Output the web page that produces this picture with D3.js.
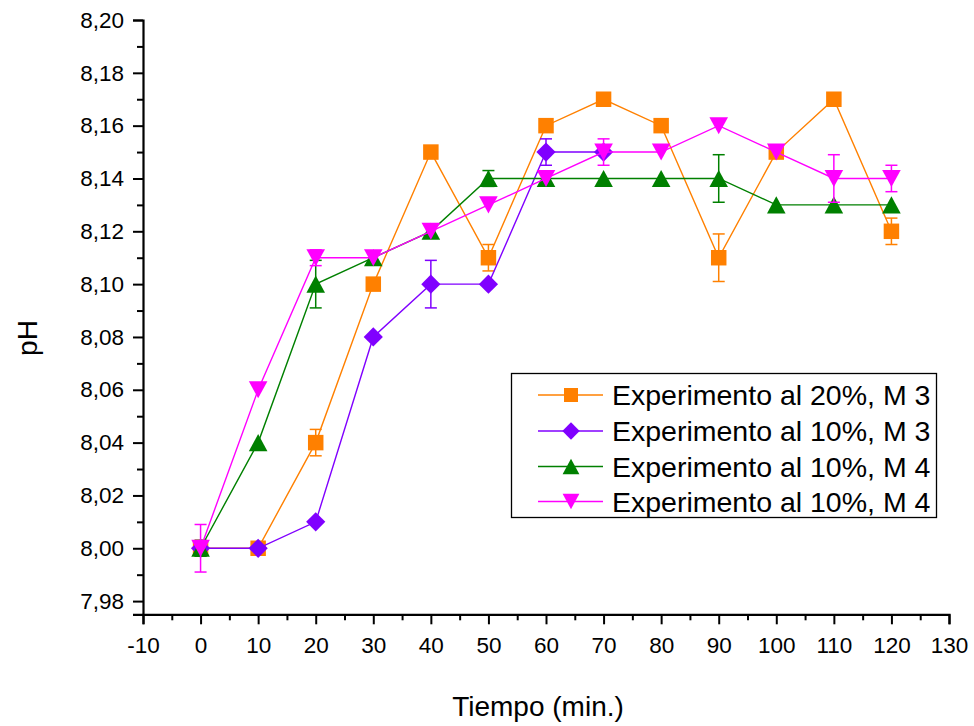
<!DOCTYPE html>
<html>
<head>
<meta charset="utf-8">
<script src="https://cdn.jsdelivr.net/npm/d3@7"></script>
<style>
  body { margin: 0; background: #fff; }
  svg { display: block; font-family: "Liberation Sans", Arial, sans-serif; }
</style>
</head>
<body>
<svg id="chart" width="974" height="726"></svg>
<script>
// ---- data ----
const times = [0, 10, 20, 30, 40, 50, 60, 70, 80, 90, 100, 110, 120];
const seriesNames = ["Experimento al 20%, M 3", "Experimento al 10%, M 3", "Experimento al 10%, M 4", "Experimento al 10%, M 4"];
const seriesColors = ["#FF8000", "#8000FF", "#008000", "#FF00FF"];
const seriesSymbols = ["square", "diamond", "triangleUp", "triangleDown"];
const orangeValues = [8.00, 8.00, 8.04, 8.10, 8.15, 8.11, 8.16, 8.17, 8.16, 8.11, 8.15, 8.17, 8.12];
const orangeErrors = [0.003, 0, 0.005, 0, 0, 0.005, 0, 0, 0, 0.009, 0, 0, 0.005];
const purpleValues = [8.00, 8.00, 8.01, 8.08, 8.10, 8.10, 8.15, 8.15];
const purpleErrors = [0.002, 0, 0, 0, 0.009, 0, 0.005, 0];
const greenValues = [8.00, 8.04, 8.10, 8.11, 8.12, 8.14, 8.14, 8.14, 8.14, 8.14, 8.13, 8.13, 8.13];
const greenErrors = [0.003, 0, 0.009, 0, 0, 0.003, 0, 0, 0, 0.009, 0, 0, 0];
const pinkValues = [8.00, 8.06, 8.11, 8.11, 8.12, 8.13, 8.14, 8.15, 8.15, 8.16, 8.15, 8.14, 8.14];
const pinkErrors = [0.009, 0, 0.003, 0, 0, 0, 0, 0.005, 0, 0, 0, 0.009, 0.005];
const xTickValues = [-10, 0, 10, 20, 30, 40, 50, 60, 70, 80, 90, 100, 110, 120, 130];
const yTickValues = [7.98, 8.00, 8.02, 8.04, 8.06, 8.08, 8.10, 8.12, 8.14, 8.16, 8.18, 8.20];
const xTitle = "Tiempo (min.)";
const yTitle = "pH";

const allValues = [orangeValues, purpleValues, greenValues, pinkValues];
const allErrors = [orangeErrors, purpleErrors, greenErrors, pinkErrors];

// ---- scales ----
const svg = d3.select("#chart");
const x = d3.scaleLinear().domain([-10, 130]).range([143, 949]);
const y = d3.scaleLinear().domain([7.975, 8.20]).range([614.3, 20]);

const fmtY = v => v.toFixed(2).replace(".", ",");
const fmtX = v => String(v);

// minor ticks
const xMinor = d3.range(-5, 130, 10);
const yMinor = d3.range(7.99, 8.20, 0.02);

// x axis
const xAxisG = svg.append("g").attr("transform", `translate(0,${y(7.975)})`)
  .call(d3.axisBottom(x).tickValues(xTickValues).tickSize(10).tickPadding(8).tickFormat(fmtX));
svg.append("g").attr("transform", `translate(0,${y(7.975)})`)
  .call(d3.axisBottom(x).tickValues(xMinor).tickSize(6).tickFormat(""))
  .call(g => g.select(".domain").remove());
// y axis
const yAxisG = svg.append("g").attr("transform", `translate(${x(-10)},0)`)
  .call(d3.axisLeft(y).tickValues(yTickValues).tickSize(10).tickPadding(9).tickFormat(fmtY));
svg.append("g").attr("transform", `translate(${x(-10)},0)`)
  .call(d3.axisLeft(y).tickValues(yMinor).tickSize(6).tickFormat(""))
  .call(g => g.select(".domain").remove());

svg.selectAll(".domain").attr("stroke", "#000").attr("stroke-width", 2.2);
svg.selectAll(".tick line").attr("stroke", "#000").attr("stroke-width", 2);
svg.selectAll(".tick text").attr("font-size", 22.5).attr("fill", "#000")
  .attr("font-family", "'Liberation Sans', Arial, sans-serif");
xAxisG.selectAll(".tick text").attr("dy", "0.9em");

// axis titles
svg.append("text").attr("x", 538).attr("y", 716)
  .attr("text-anchor", "middle").attr("font-size", 28).text(xTitle);
svg.append("text").attr("transform", `translate(37,338) rotate(-90)`)
  .attr("text-anchor", "middle").attr("font-size", 28).text(yTitle);

// symbol path generator
function symbolPath(type, s) {
  if (type === "square") { const h = s * 0.5; return `M${-h},${-h}H${h}V${h}H${-h}Z`; }
  if (type === "diamond") { const h = s * 0.62; return `M0,${-h}L${h},0L0,${h}L${-h},0Z`; }
  if (type === "triangleUp") { const w = s * 0.6, h = s * 0.55; return `M0,${-h}L${w},${h}L${-w},${h}Z`; }
  if (type === "triangleDown") { const w = s * 0.6, h = s * 0.55; return `M0,${h}L${w},${-h}L${-w},${-h}Z`; }
}

const line = d3.line().x(d => x(d.t)).y(d => y(d.v));

allValues.forEach((vals, i) => {
  const color = seriesColors[i];
  const data = vals.map((v, j) => ({ t: times[j], v: v, e: allErrors[i][j] }));
  const g = svg.append("g");
  g.append("path").datum(data).attr("d", line).attr("fill", "none")
    .attr("stroke", color).attr("stroke-width", 1.4);
  // error bars
  const eb = g.selectAll(".eb").data(data.filter(d => d.e > 0)).enter().append("g");
  eb.append("line").attr("x1", d => x(d.t)).attr("x2", d => x(d.t))
    .attr("y1", d => y(d.v - d.e)).attr("y2", d => y(d.v + d.e))
    .attr("stroke", color).attr("stroke-width", 1.5);
  [1, -1].forEach(sgn => {
    eb.append("line").attr("x1", d => x(d.t) - 6).attr("x2", d => x(d.t) + 6)
      .attr("y1", d => y(d.v + sgn * d.e)).attr("y2", d => y(d.v + sgn * d.e))
      .attr("stroke", color).attr("stroke-width", 1.5);
  });
  // markers
  g.selectAll(".m").data(data).enter().append("path")
    .attr("transform", d => `translate(${x(d.t)},${y(d.v)})`)
    .attr("d", symbolPath(seriesSymbols[i], 15.5))
    .attr("fill", color);
});

// legend
const legend = svg.append("g");
legend.append("rect").attr("x", 511.5).attr("y", 373.5).attr("width", 425).attr("height", 144)
  .attr("fill", "#fff").attr("stroke", "#000").attr("stroke-width", 1.3);
const rowY = [395, 431, 466.5, 501.5];
seriesNames.forEach((name, i) => {
  const ly = rowY[i];
  legend.append("line").attr("x1", 538).attr("x2", 603).attr("y1", ly).attr("y2", ly)
    .attr("stroke", seriesColors[i]).attr("stroke-width", 1.4);
  legend.append("path").attr("transform", `translate(571,${ly})`)
    .attr("d", symbolPath(seriesSymbols[i], 14)).attr("fill", seriesColors[i]);
  legend.append("text").attr("x", 612).attr("y", ly).attr("dy", "0.36em")
    .attr("font-size", 28.5).attr("fill", "#000").text(name);
});
</script>
</body>
</html>
